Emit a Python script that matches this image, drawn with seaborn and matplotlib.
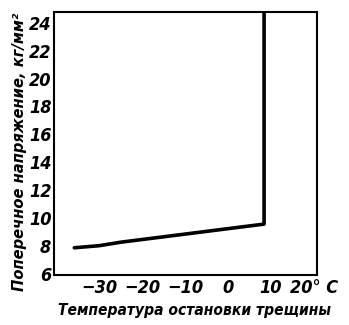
import matplotlib
matplotlib.use("Agg")
import matplotlib.pyplot as plt
import seaborn as sns
import pandas as pd

# Crack-arrest temperature vs. transverse stress
temperature = [-35.8, -30.0, -25.0, 8.4, 8.4]
stress = [7.85, 8.0, 8.25, 9.55, 24.8]

x_ticks = [-30, -20, -10, 0, 10, 20]
x_tick_labels = ["−30", "−20", "−10", "0", "10", "20° C"]
y_ticks = [6, 8, 10, 12, 14, 16, 18, 20, 22, 24]

sns.set_theme(style="white")
plt.rcParams["font.family"] = ["DejaVu Sans"]
plt.rcParams["font.style"] = "italic"
plt.rcParams["font.stretch"] = "condensed"
plt.rcParams["font.weight"] = "bold"

fig = plt.figure(figsize=(3.49, 3.25), dpi=100)
ax = fig.add_axes([0.155, 0.154, 0.753, 0.808])

df = pd.DataFrame({"t": temperature, "s": stress})
sns.lineplot(data=df, x="t", y="s", sort=False, ax=ax, color="black",
             linewidth=2.6, estimator=None)

ax.set_xlim(-40.5, 20.7)
ax.set_ylim(5.9, 24.75)
ax.set_xticks(x_ticks)
ax.set_xticklabels(x_tick_labels)
ax.set_yticks(y_ticks)

for sp in ax.spines.values():
    sp.set_color("black")
    sp.set_linewidth(1.5)

ax.tick_params(axis="both", direction="in", length=5, width=1.3,
               colors="black", labelcolor="black", labelsize=13, pad=3)
ax.tick_params(axis="y", pad=2)

ax.set_xlabel("Температура остановки трещины", fontsize=11.2,
              fontweight="bold", color="black")
ax.set_ylabel("Поперечное напряжение, кг/мм²", fontsize=11.8,
              fontweight="bold", color="black")
ax.xaxis.set_label_coords(0.536, -0.105)
ax.yaxis.set_label_coords(-0.105, 0.47)

fig.savefig("out.png", dpi=100, facecolor="white")
